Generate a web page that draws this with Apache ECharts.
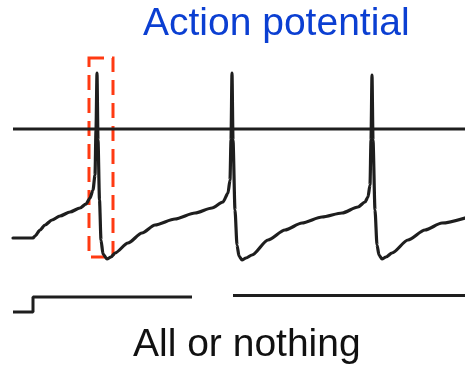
<!DOCTYPE html>
<html>
<head>
<meta charset="utf-8">
<script src="https://cdn.jsdelivr.net/npm/echarts@6/dist/echarts.min.js"></script>
<style>
html,body{margin:0;padding:0;background:#fff;}
#chart{width:465px;height:367px;}
</style>
</head>
<body>
<div id="chart"></div>
<script>
// Membrane potential trace: time (ms) and voltage (mV)
var timeMs = [0,10,11,13.5,16,19.5,23.5,28.5,33.5,36.5,38.5,40,41,41.5,42,42.5,43.25,44,45,47,49,51,57.5,64.5,71,81,91,99.5,105,107.5,108.5,109,109.5,110,111,112,113,114.5,116.5,119.5,127.5,136,144.5,154.5,164.5,172.5,176,177.5,178.5,179,179.5,180,181,182,183,184.5,186.5,189.5,197.5,206,214.5,226];
var voltageMv = [-54.5,-54.5,-53.5,-50.5,-48,-45.5,-43.5,-41.5,-39.5,-37.5,-34.5,-30.5,-23,-0.5,28,-5.5,-35.5,-55.5,-62.5,-65,-64,-62,-57,-52,-48,-45,-42,-39.5,-36.5,-32,-25.5,-5.5,28,-5.5,-40.5,-58,-63.5,-65.5,-64.5,-63,-55.5,-50.5,-47,-44,-42,-39,-36.5,-34,-28,-5.5,27,-5.5,-40.5,-58,-63,-65,-64,-62,-55.5,-50.5,-47,-44.5];
// Zero-mV reference line
var zeroLineT = [0,226];
var zeroLineV = [0,0];
// Injected current step (relative units)
var stimT = [0,10,10,89.5,null,110,226];
var stimI = [0,0,94,94,null,103,103];
// Highlighted first spike window
var boxT = [38,50];
var boxV = [35.5,-64];
var titleText = 'Action potential';
var footerText = 'All or nothing';

function zip(a,b){var r=[];for(var i=0;i<a.length;i++){r.push(a[i]===null?[null,null]:[a[i],b[i]]);}return r;}

var chart = echarts.init(document.getElementById('chart'), null, {renderer:'canvas'});
chart.setOption({
  animation:false,
  backgroundColor:'#ffffff',
  title:[
    {text:titleText,left:143,top:5,textStyle:{color:'#0b3fd2',fontSize:39,fontWeight:'normal',fontFamily:'Liberation Sans, Arial, sans-serif'},padding:0},
    {text:footerText,left:133,top:326,textStyle:{color:'#111111',fontSize:39,fontWeight:'normal',fontFamily:'Liberation Sans, Arial, sans-serif'},padding:0}
  ],
  grid:[
    {left:0,right:0,top:0,bottom:0},
    {left:0,right:0,top:296,height:16}
  ],
  xAxis:[
    {gridIndex:0,type:'value',min:-6.5,max:226,show:false},
    {gridIndex:1,type:'value',min:-6.5,max:226,show:false}
  ],
  yAxis:[
    {gridIndex:0,type:'value',min:-119,max:64.5,show:false},
    {gridIndex:1,type:'value',min:0,max:100,show:false}
  ],
  series:[
    {type:'line',xAxisIndex:0,yAxisIndex:0,data:zip(zeroLineT,zeroLineV),showSymbol:false,clip:false,
     lineStyle:{color:'#1e1e1e',width:3},silent:true},
    {type:'line',xAxisIndex:0,yAxisIndex:0,data:zip(timeMs,voltageMv),showSymbol:false,clip:false,
     smooth:0.25,smoothMonotone:'x',
     lineStyle:{color:'#1e1e1e',width:3.2,join:'round',cap:'round'},silent:true,
     markArea:{silent:true,
       itemStyle:{color:'rgba(0,0,0,0)',borderColor:'#ff3a12',borderWidth:3,borderType:[15,8]},
       data:[[{coord:[boxT[0],boxV[0]]},{coord:[boxT[1],boxV[1]]}]]}},
    {type:'line',xAxisIndex:1,yAxisIndex:1,data:zip(stimT,stimI),showSymbol:false,clip:false,connectNulls:false,
     lineStyle:{color:'#1e1e1e',width:3},silent:true}
  ]
});
</script>
</body>
</html>
